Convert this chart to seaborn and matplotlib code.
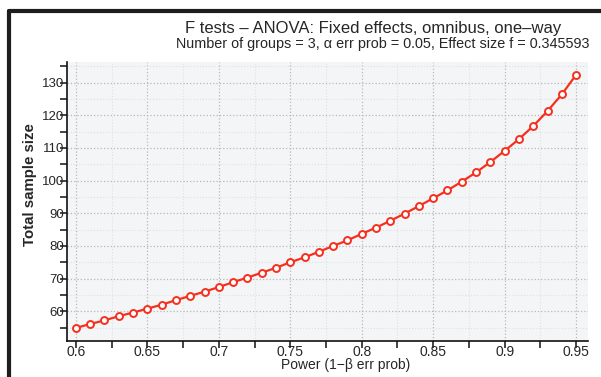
import pandas as pd
import seaborn as sns
import matplotlib.pyplot as plt
from matplotlib.lines import Line2D
from matplotlib.ticker import MultipleLocator, FuncFormatter

# values
power = [0.60, 0.61, 0.62, 0.63, 0.64, 0.65, 0.66, 0.67, 0.68, 0.69,
         0.70, 0.71, 0.72, 0.73, 0.74, 0.75, 0.76, 0.77, 0.78, 0.79,
         0.80, 0.81, 0.82, 0.83, 0.84, 0.85, 0.86, 0.87, 0.88, 0.89,
         0.90, 0.91, 0.92, 0.93, 0.94, 0.95]
sample_size = [54.9, 56.1, 57.2, 58.5, 59.6, 60.8, 62.0, 63.4, 64.7, 66.0,
               67.4, 68.9, 70.3, 71.8, 73.3, 75.0, 76.5, 78.2, 80.0, 81.7,
               83.7, 85.6, 87.7, 89.9, 92.2, 94.6, 97.0, 99.7, 102.5, 105.7,
               109.1, 112.7, 116.7, 121.3, 126.4, 132.4]
x_ticks = [0.6, 0.65, 0.7, 0.75, 0.8, 0.85, 0.9, 0.95]
y_ticks = [60, 70, 80, 90, 100, 110, 120, 130]

df = pd.DataFrame({'Power': power, 'Total sample size': sample_size})

sns.set_style('white')
plt.rcParams['font.family'] = ['Liberation Sans', 'DejaVu Sans']

fig = plt.figure(figsize=(6.01, 3.77), dpi=100)
W, H = 601, 377
ax = fig.add_axes([67 / W, 1 - 341 / H, (588 - 67) / W, (341 - 62) / H])
ax.set_facecolor('#f3f5f7')

sns.lineplot(data=df, x='Power', y='Total sample size', ax=ax, color='#f5301e',
             linewidth=1.6, marker='o', markersize=5, markerfacecolor='white',
             markeredgecolor='#f5301e', markeredgewidth=1.4, zorder=3)

ax.set_xlim(0.5938, 0.9583)
ax.set_ylim(50.9, 136.3)
ax.set_xticks(x_ticks)
ax.set_yticks(y_ticks)
ax.xaxis.set_minor_locator(MultipleLocator(0.025))
ax.yaxis.set_minor_locator(MultipleLocator(5))
ax.xaxis.set_major_formatter(FuncFormatter(lambda v, p: '%g' % round(v, 3)))

ax.grid(which='major', color='#b8b8b8', linestyle=':', linewidth=0.9)
ax.grid(which='minor', color='#e0e0e0', linestyle=':', linewidth=0.8)
ax.set_axisbelow(True)

for s in ['top', 'right']:
    ax.spines[s].set_visible(False)
for s in ['left', 'bottom']:
    ax.spines[s].set_color('#111111')
    ax.spines[s].set_linewidth(1.2)

ax.tick_params(which='both', direction='out', color='#111111', width=1.1,
               length=5, labelsize=9.5)
ax.tick_params(axis='x', which='both', bottom=True, pad=-2, labelsize=10)
ax.tick_params(axis='y', which='both', left=True, pad=-3)

ax.set_xlabel('Power (1\u2212\u03b2 err prob)', fontsize=10, labelpad=0)
ax.xaxis.set_label_coords((346 - 67) / (588 - 67), -(365 - 341) / (341 - 62))
ax.xaxis.label.set_va('center')
ax.set_ylabel('Total sample size', fontsize=10.8, fontweight='bold')
ax.yaxis.set_label_coords(-(67 - 30) / (588 - 67), (341 - 185) / (341 - 62))
ax.yaxis.label.set_va('center')

fig.text(373 / W, 1 - 29 / H, 'F tests \u2013 ANOVA: Fixed effects, omnibus, one\u2013way',
         ha='center', va='center', fontsize=12)
fig.text(382.5 / W, 1 - 44 / H,
         'Number of groups = 3, \u03b1 err prob = 0.05, Effect size f = 0.345593',
         ha='center', va='center', fontsize=10.4)

# window frame
fig.add_artist(Line2D([8.5 / W, 1.0], [1 - 11 / H, 1 - 11 / H], color='#1e1e1e',
                      linewidth=3, transform=fig.transFigure))
fig.add_artist(Line2D([8.5 / W, 8.5 / W], [0.0, 1 - 11 / H], color='#1e1e1e',
                      linewidth=3, transform=fig.transFigure))

fig.savefig('out.png', dpi=100)
